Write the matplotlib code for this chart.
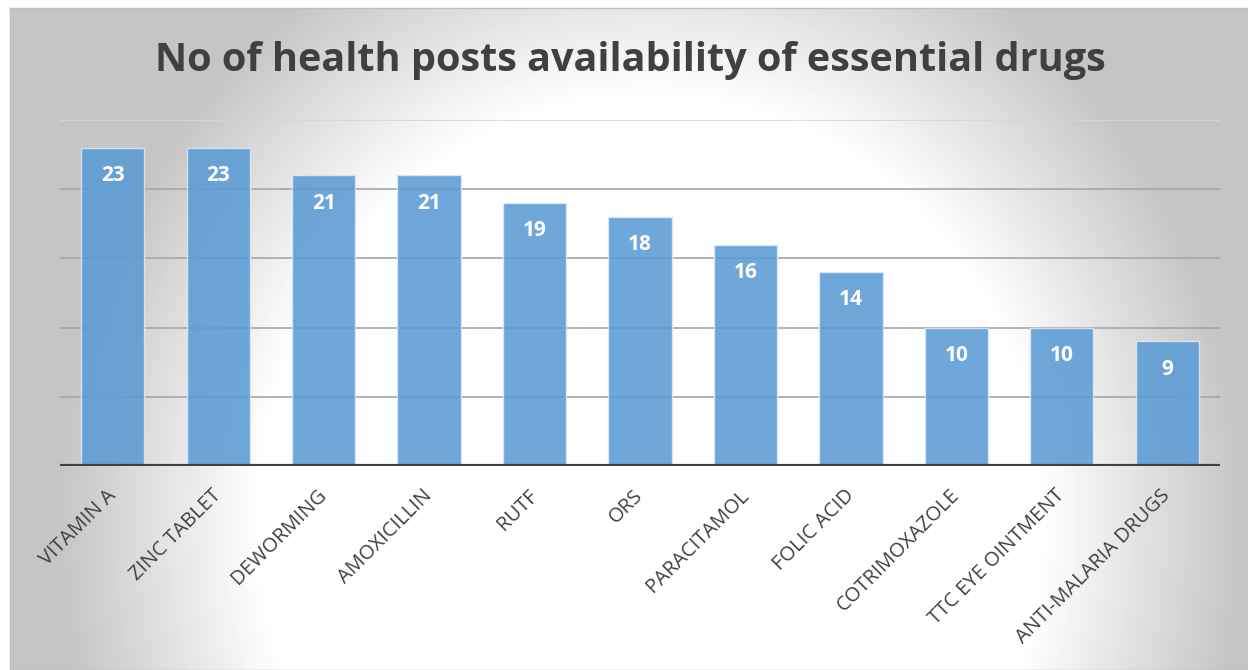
import matplotlib.pyplot as plt
import matplotlib.transforms as mtransforms
import numpy as np

drugs = ['VITAMIN A', 'ZINC TABLET', 'DEWORMING', 'AMOXICILLIN', 'RUTF', 'ORS',
         'PARACITAMOL', 'FOLIC ACID', 'COTRIMOXAZOLE', 'TTC EYE OINTMENT',
         'ANTI-MALARIA DRUGS']
health_posts = [23, 23, 21, 21, 19, 18, 16, 14, 10, 10, 9]
grid_ticks = [5, 10, 15, 20, 25]

W, H = 1248, 670
fig = plt.figure(figsize=(W / 100, H / 100), dpi=100)
fig.patch.set_facecolor('white')

# radial gradient background inside the chart frame (pixel grid, top row first)
bg = fig.add_axes([10 / W, 0, 1 - 10 / W, 1 - 8 / H], zorder=0)
yy, xx = np.mgrid[8:H, 10:W]
d = np.sqrt(((xx - 650) / 600.0) ** 2 + ((yy - 520) / 650.0) ** 2)
shade = np.clip(1.0 - 0.68 * (d - 0.65), 0.77, 1.0)
bg.imshow(shade, cmap='gray', vmin=0, vmax=1, aspect='auto', extent=[0, 1, 0, 1],
          origin='upper', interpolation='bilinear')
bg.set_xticks([])
bg.set_yticks([])
for s in bg.spines.values():
    s.set_color('#bfbfbf')
    s.set_linewidth(1)

ax = fig.add_axes([60 / W, 1 - 466 / H, 1160 / W, 346 / H], zorder=1)
ax.patch.set_alpha(0)
x = np.arange(len(drugs))
bars = ax.bar(x, health_posts, width=0.6, color='#5B9BD5', alpha=0.88,
              edgecolor='#dce9f5', linewidth=1, zorder=2)
ax.set_xlim(-0.5, len(drugs) - 0.5)
ax.set_ylim(0, 25)

for t in grid_ticks:
    ax.axhline(t, color='#a6a6a6' if t < 25 else '#d6d6d6', linewidth=1.2, zorder=1)
ax.axhline(0, color='#404040', linewidth=3, zorder=3)

for xi, v in zip(x, health_posts):
    ax.text(xi, v - 2.0, str(v), ha='center', va='center', color='white',
            fontsize=15, fontweight='bold', family='Open Sans', zorder=4)

ax.set_xticks(x)
ax.set_xticklabels(drugs, rotation=45, ha='right', rotation_mode='anchor',
                   fontsize=14.5, color='#404040', family='Open Sans')
ax.tick_params(axis='x', length=0, pad=14)
shift = mtransforms.ScaledTranslation(-7 / 100, 0, fig.dpi_scale_trans)
for lbl in ax.get_xticklabels():
    lbl.set_transform(lbl.get_transform() + shift)
ax.set_yticks([])
for s in ax.spines.values():
    s.set_visible(False)

fig.text(630 / W, 1 - 60 / H, 'No of health posts availability of essential drugs',
         ha='center', va='center', fontsize=28.5, fontweight='bold', color='#404040',
         family='Open Sans')

fig.savefig('out.png', dpi=100)
